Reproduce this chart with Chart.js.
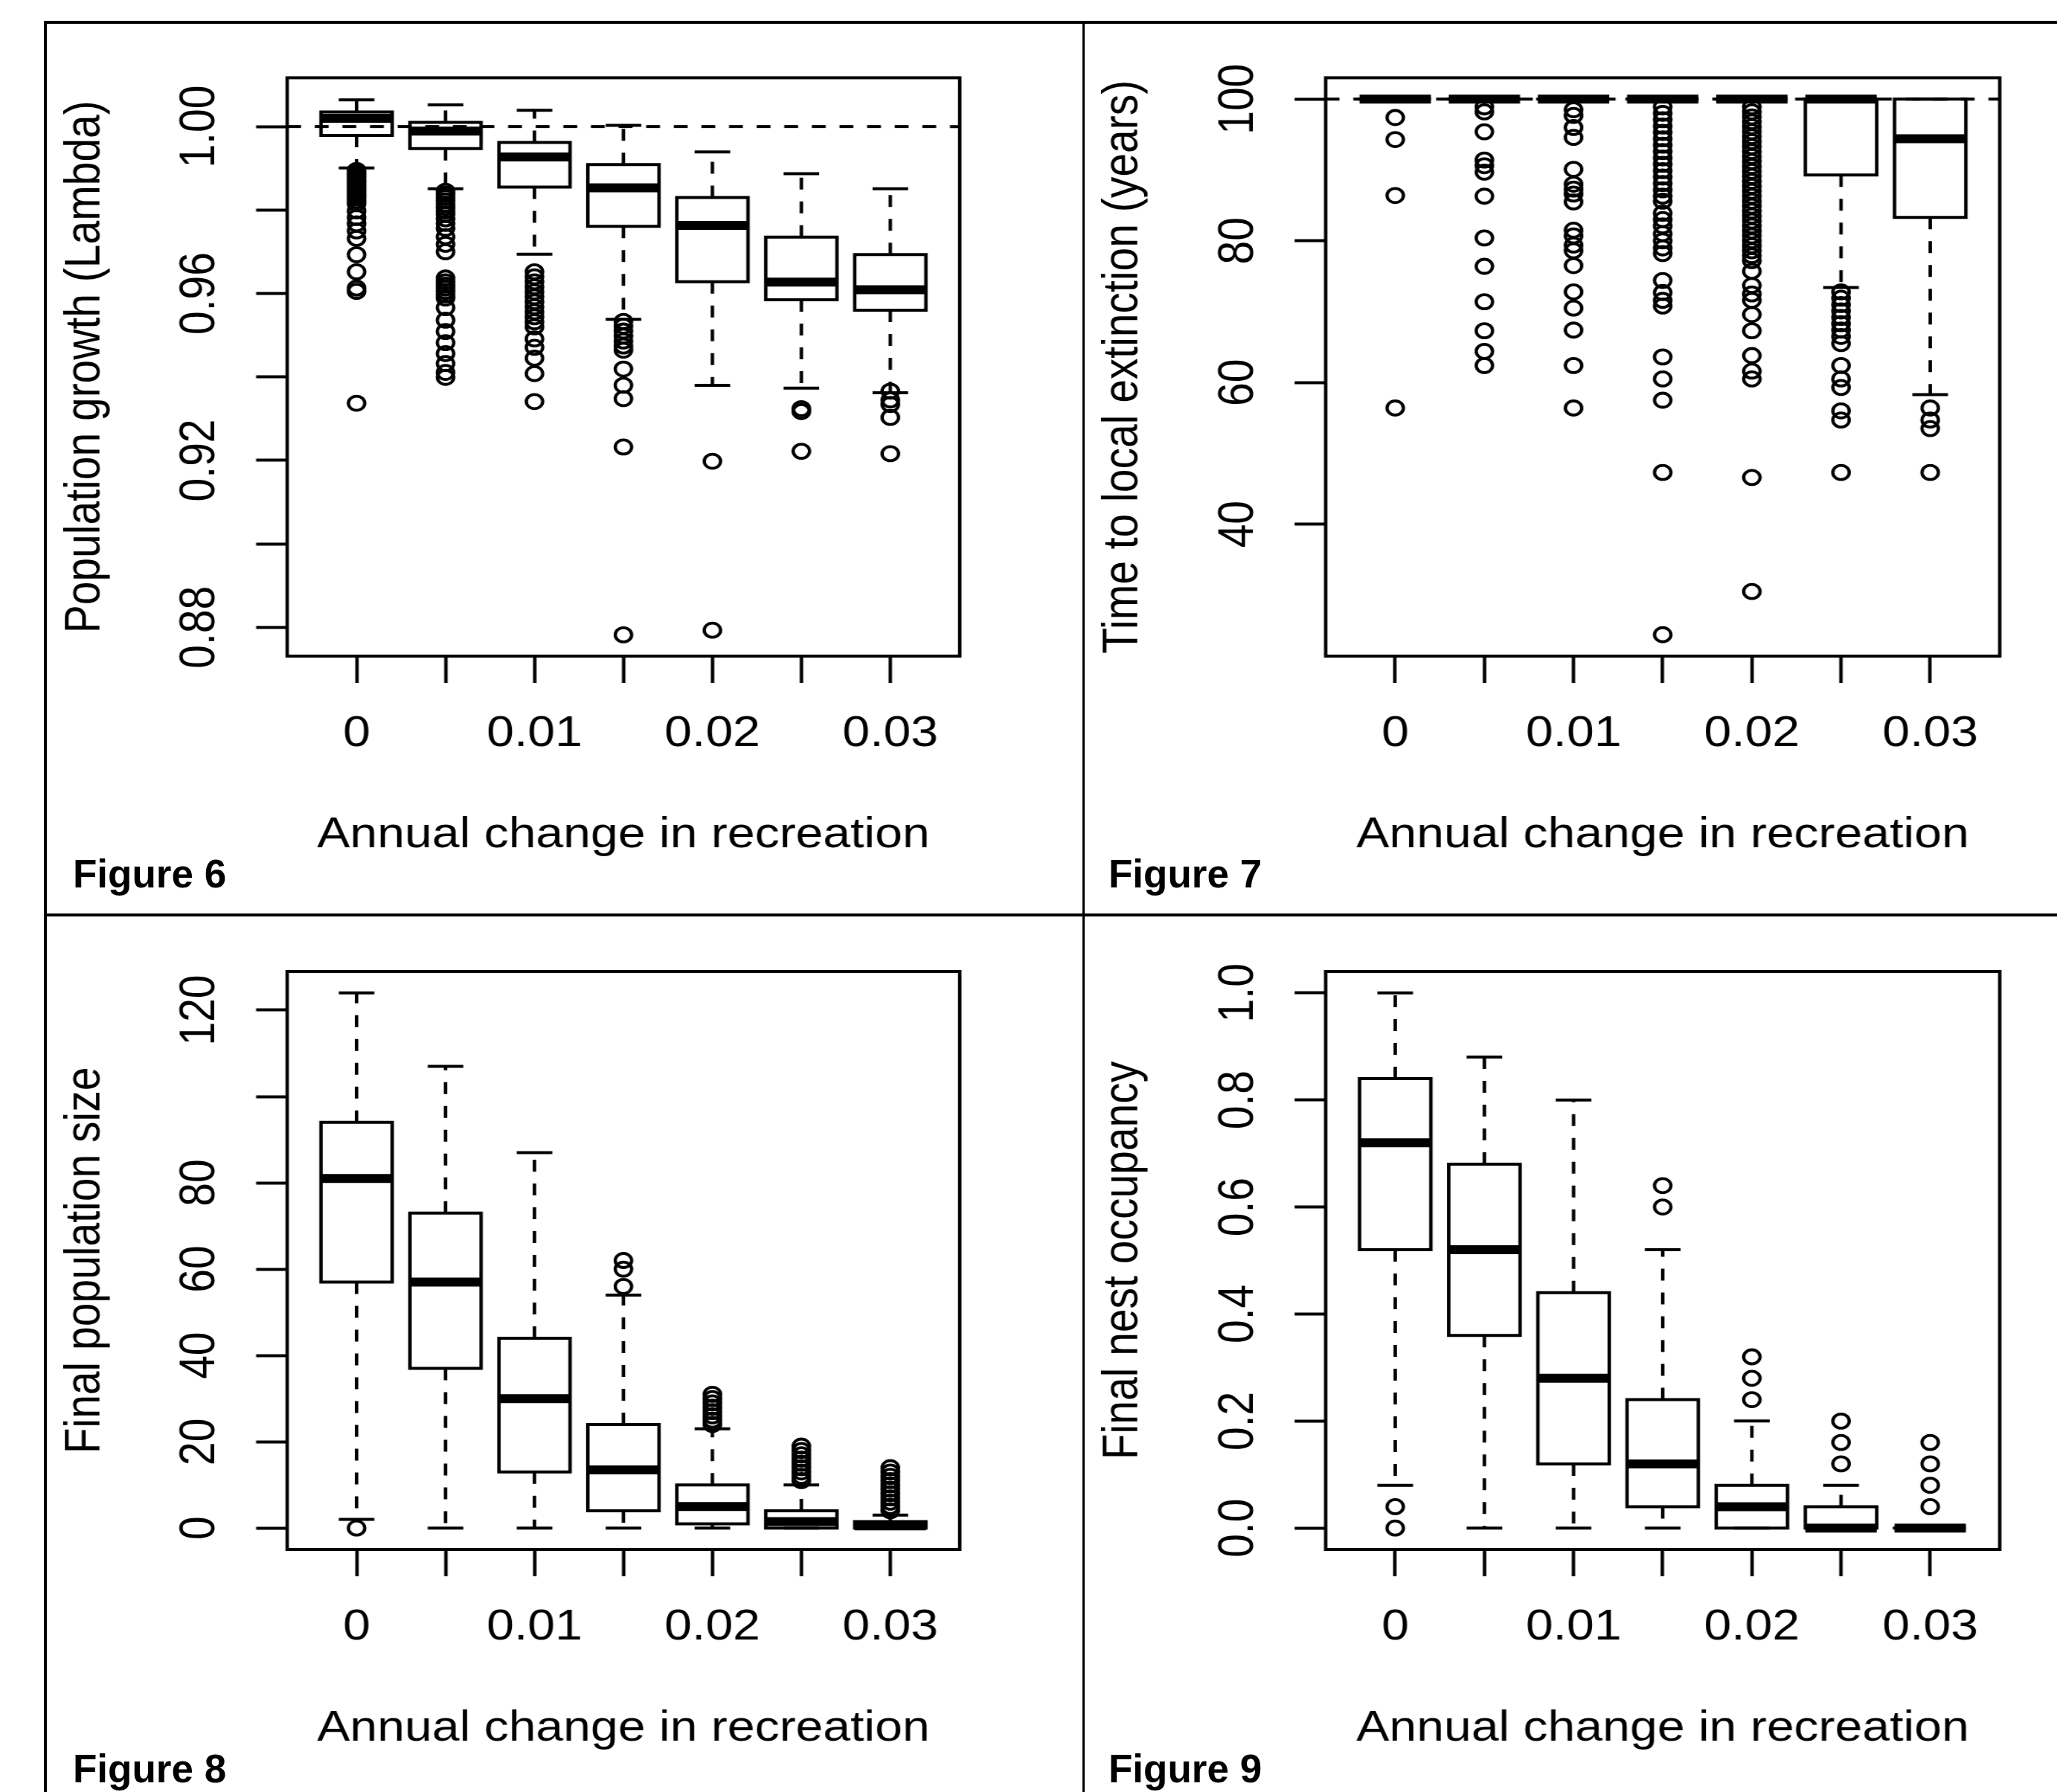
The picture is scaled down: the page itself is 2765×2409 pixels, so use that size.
<!DOCTYPE html>
<html>
<head>
<meta charset="utf-8">
<title>Figures 6-9: annual change in recreation</title>
<script src="https://cdn.jsdelivr.net/npm/chart.js@4.4.1/dist/chart.umd.min.js"></script>
<style>
  html, body { margin: 0; padding: 0; background: #fff; }
  #page { position: relative; width: 2765px; height: 2409px; overflow: hidden; background: #fff; }
  .rule { position: absolute; background: #000; }
  .panel { position: absolute; transform-origin: 0 0; transform: scaleX(1.16); }
  .fig { position: absolute; font: bold 53px 'Liberation Sans', Arial, sans-serif; line-height: 53px; color: #000; white-space: nowrap; }
</style>
</head>
<body>
<div id="page">
  <div class="rule" style="left:59px;top:28px;width:2706px;height:4px"></div>
  <div class="rule" style="left:59px;top:28px;width:4px;height:2381px"></div>
  <div class="rule" style="left:1455px;top:28px;width:3px;height:2381px"></div>
  <div class="rule" style="left:59px;top:1228px;width:2706px;height:4px"></div>

  <canvas id="fig6" class="panel" width="1190" height="1190" style="left:64px;top:33px"></canvas>
  <canvas id="fig7" class="panel" width="1190" height="1190" style="left:1459px;top:33px"></canvas>
  <canvas id="fig8" class="panel" width="1190" height="1190" style="left:64px;top:1234px"></canvas>
  <canvas id="fig9" class="panel" width="1190" height="1190" style="left:1459px;top:1234px"></canvas>

  <div class="fig" style="left:98px;top:1148px">Figure 6</div>
  <div class="fig" style="left:1490px;top:1148px">Figure 7</div>
  <div class="fig" style="left:98px;top:2351px">Figure 8</div>
  <div class="fig" style="left:1490px;top:2351px">Figure 9</div>
</div>

<script>
// ---- data ----
const groups = [1, 2, 3, 4, 5, 6, 7];
const xLabels = ['0', '', '0.01', '', '0.02', '', '0.03'];
const xTitle = 'Annual change in recreation';

// Figure 6 - population growth (lambda)
const f6Low  = [0.9901, 0.9851, 0.9694, 0.9538, 0.9380, 0.9373, 0.9362];
const f6Q1   = [0.9979, 0.9947, 0.9855, 0.9761, 0.9628, 0.9585, 0.9560];
const f6Med  = [1.0020, 0.9989, 0.9927, 0.9853, 0.9763, 0.9627, 0.9609];
const f6Q3   = [1.0035, 1.0010, 0.9962, 0.9909, 0.9830, 0.9735, 0.9693];
const f6High = [1.0064, 1.0052, 1.0039, 1.0003, 0.9939, 0.9887, 0.9851];
const f6Out = [
  [0.9895, 0.9889, 0.9883, 0.9877, 0.9871, 0.9865, 0.9859, 0.9853, 0.9847, 0.9841, 0.9835, 0.9829, 0.9822, 0.9815, 0.9798, 0.9782, 0.9767, 0.9750, 0.9732, 0.9693, 0.9652, 0.9613, 0.9605, 0.9337],
  [0.9845, 0.9838, 0.9830, 0.9822, 0.9814, 0.9806, 0.9798, 0.9790, 0.9779, 0.9768, 0.9756, 0.9736, 0.9718, 0.9700, 0.9637, 0.9628, 0.9620, 0.9613, 0.9605, 0.9597, 0.9589, 0.9566, 0.9536, 0.9509, 0.9482, 0.9456, 0.9432, 0.9411, 0.9399],
  [0.9652, 0.9640, 0.9628, 0.9616, 0.9604, 0.9592, 0.9580, 0.9568, 0.9556, 0.9544, 0.9532, 0.9520, 0.9491, 0.9471, 0.9445, 0.9408, 0.9341],
  [0.9533, 0.9522, 0.9510, 0.9498, 0.9486, 0.9474, 0.9464, 0.9419, 0.9380, 0.9348, 0.9232, 0.8782],
  [0.9198, 0.8793],
  [0.9324, 0.9317, 0.9222],
  [0.9366, 0.9345, 0.9334, 0.9303, 0.9216]
];
const f6YTicks  = [0.88, 0.90, 0.92, 0.94, 0.96, 0.98, 1.00];
const f6YLabels = ['0.88', '', '0.92', '', '0.96', '', '1.00'];

// Figure 7 - time to local extinction (years)
const f7Low  = [100, 100, 100, 100, 100, 73.4, 58.3];
const f7Q1   = [100, 100, 100, 100, 100, 89.3, 83.3];
const f7Med  = [100, 100, 100, 100, 100, 100, 94.4];
const f7Q3   = [100, 100, 100, 100, 100, 100, 100];
const f7High = [100, 100, 100, 100, 100, 100, 100];
const f7Out = [
  [97.4, 94.3, 86.4, 56.4],
  [98.9, 98.2, 95.4, 91.4, 90.6, 89.7, 86.3, 80.4, 76.4, 71.4, 67.3, 64.4, 62.4],
  [98.5, 97.7, 96.0, 94.6, 90.1, 88.0, 87.3, 86.6, 85.5, 81.5, 80.7, 79.4, 78.6, 76.5, 72.8, 70.5, 67.4, 62.4, 56.4],
  [98.9, 98.0, 97.1, 96.2, 95.3, 94.4, 93.5, 92.6, 91.7, 90.8, 89.9, 89.0, 88.1, 87.2, 86.3, 85.6, 83.9, 83.0, 82.1, 81.0, 80.0, 79.0, 78.2, 74.4, 72.7, 71.6, 70.8, 63.6, 60.5, 57.5, 47.3, 24.4],
  [98.9, 98.2, 97.5, 96.8, 96.1, 95.4, 94.7, 94.0, 93.3, 92.6, 91.9, 91.2, 90.5, 89.8, 89.1, 88.4, 87.7, 87.0, 86.3, 85.6, 84.9, 84.2, 83.5, 82.8, 82.1, 81.4, 80.7, 80.0, 79.3, 78.6, 77.9, 77.2, 75.7, 73.7, 72.5, 71.6, 69.6, 67.3, 63.8, 61.6, 60.5, 46.6, 30.5],
  [72.8, 71.9, 71.0, 70.1, 69.2, 68.3, 67.4, 66.5, 65.5, 62.4, 60.5, 59.3, 56.0, 54.7, 47.3],
  [56.4, 54.7, 53.5, 47.3]
];
const f7YTicks  = [40, 60, 80, 100];
const f7YLabels = ['40', '60', '80', '100'];

// Figure 8 - final population size
const f8Low  = [2, 0, 0, 0, 0, 0, 0];
const f8Q1   = [57, 37, 13, 4, 1, 0, 0];
const f8Med  = [81, 57, 30, 13.5, 5, 1.5, 0.5];
const f8Q3   = [94, 73, 44, 24, 10, 4, 1.5];
const f8High = [124, 107, 87, 54, 23, 10, 3];
const f8Out = [
  [0],
  [],
  [],
  [62, 60, 56],
  [24, 25, 26, 27, 28, 29, 30, 31],
  [11, 12, 13, 14, 15, 16, 17, 18, 19],
  [4, 5, 6, 7, 8, 9, 10, 11, 12, 13, 14]
];
const f8YTicks  = [0, 20, 40, 60, 80, 100, 120];
const f8YLabels = ['0', '20', '40', '60', '80', '', '120'];

// Figure 9 - final nest occupancy
const f9Low  = [0.08, 0, 0, 0, 0, 0, 0];
const f9Q1   = [0.52, 0.36, 0.12, 0.04, 0, 0, 0];
const f9Med  = [0.72, 0.52, 0.28, 0.12, 0.04, 0, 0];
const f9Q3   = [0.84, 0.68, 0.44, 0.24, 0.08, 0.04, 0];
const f9High = [1.00, 0.88, 0.80, 0.52, 0.20, 0.08, 0];
const f9Out = [
  [0.04, 0],
  [],
  [],
  [0.64, 0.60],
  [0.32, 0.28, 0.24],
  [0.20, 0.16, 0.12],
  [0.16, 0.12, 0.08, 0.04]
];
const f9YTicks  = [0, 0.2, 0.4, 0.6, 0.8, 1.0];
const f9YLabels = ['0.0', '0.2', '0.4', '0.6', '0.8', '1.0'];

// ---- drawing ----
const FONT = "'Liberation Sans', Arial, Helvetica, sans-serif";
const FS = 57;          // R cex 1 text
const TICK = 36;        // tick length
const LW = 4;           // normal line width
const HALF = 0.4;       // half box width (boxwex 0.8)
const STAPLE = 0.2;     // half staple width
const X_MIN = 0.22, X_MAX = 7.78;
const W = 1190, H = 1190;
const DASH = [16, 16];
const LABEL_GAP = 100;  // frame edge to centre of the y tick labels

function widest(labels) {
  const c = document.createElement('canvas').getContext('2d');
  c.font = FS + 'px ' + FONT;
  return Math.max(...labels.map(l => c.measureText(l).width));
}

function boxParts(low, q1, med, q3, high, out) {
  const box = [], mid = [], whisk = [], staple = [], pts = [];
  groups.forEach((g, i) => {
    box.push({x: g - HALF, y: q1[i]}, {x: g + HALF, y: q1[i]}, {x: g + HALF, y: q3[i]},
             {x: g - HALF, y: q3[i]}, {x: g - HALF, y: q1[i]}, {x: g, y: null});
    mid.push({x: g - HALF, y: med[i]}, {x: g + HALF, y: med[i]}, {x: g, y: null});
    whisk.push({x: g, y: q3[i]}, {x: g, y: high[i]}, {x: g, y: null},
               {x: g, y: q1[i]}, {x: g, y: low[i]}, {x: g, y: null});
    staple.push({x: g - STAPLE, y: high[i]}, {x: g + STAPLE, y: high[i]}, {x: g, y: null},
                {x: g - STAPLE, y: low[i]}, {x: g + STAPLE, y: low[i]}, {x: g, y: null});
    out[i].forEach(v => pts.push({x: g, y: v}));
  });
  return {box, mid, whisk, staple, pts};
}

// box round the plot region, like R's box()
const frame = {
  id: 'frame',
  afterDatasetsDraw(chart) {
    const {ctx, chartArea: a} = chart;
    ctx.save();
    ctx.strokeStyle = '#000';
    ctx.lineWidth = 4;
    ctx.strokeRect(a.left, a.top, a.right - a.left, a.bottom - a.top);
    ctx.restore();
  }
};

function lineSet(data, width, order, extra) {
  return Object.assign({
    type: 'line', data, borderColor: '#000', borderWidth: width, pointRadius: 0,
    fill: false, tension: 0, spanGaps: false, borderJoinStyle: 'miter', order
  }, extra || {});
}

function makePanel(id, p) {
  const parts = boxParts(p.low, p.q1, p.med, p.q3, p.high, p.out);
  const datasets = [
    {type: 'scatter', data: parts.pts, pointStyle: 'circle', pointRadius: 9.5, pointBorderWidth: 3.8,
     borderColor: '#000', backgroundColor: 'rgba(0,0,0,0)', order: 1},
    lineSet(parts.mid, 12, 2),
    lineSet(parts.box, LW, 3, {borderCapStyle: 'square'}),
    lineSet(parts.staple, LW, 4),
    lineSet(parts.whisk, LW, 5, {borderDash: DASH})
  ];
  if (p.ref !== undefined) {
    datasets.unshift(lineSet([{x: X_MIN, y: p.ref}, {x: X_MAX, y: p.ref}], LW, 0, {borderDash: DASH}));
  }
  const a = p.area;
  const font = {family: FONT, size: FS};

  new Chart(document.getElementById(id), {
    type: 'scatter',
    data: {datasets},
    options: {
      responsive: false,
      animation: false,
      events: [],
      layout: {padding: {left: 0, top: a.top, right: W - a.right, bottom: 0}},
      plugins: {legend: {display: false}, tooltip: {enabled: false}},
      scales: {
        x: {
          type: 'linear', min: X_MIN, max: X_MAX,
          afterBuildTicks: s => { s.ticks = groups.map(v => ({value: v})); },
          afterFit: s => { s.height = H - a.bottom; s.paddingLeft = 0; s.paddingRight = 0; },
          border: {display: false},
          grid: {drawOnChartArea: false, drawTicks: true, tickLength: TICK, tickWidth: 4, tickColor: '#000'},
          ticks: {autoSkip: false, minRotation: 0, maxRotation: 0, padding: 35, color: '#000', font,
                  callback: v => xLabels[groups.indexOf(v)]},
          title: {display: true, text: xTitle, color: '#000', font, padding: {top: 0, bottom: 66}}
        },
        y: {
          type: 'linear', min: p.yMin, max: p.yMax,
          afterBuildTicks: s => { s.ticks = p.yTicks.map(v => ({value: v})); },
          afterFit: s => { s.width = a.left; s.paddingTop = 0; s.paddingBottom = 0; },
          border: {display: false},
          grid: {drawOnChartArea: false, drawTicks: true, tickLength: TICK, tickWidth: 4, tickColor: '#000'},
          ticks: {autoSkip: false, minRotation: 90, maxRotation: 90, crossAlign: 'center',
                  padding: LABEL_GAP - TICK - widest(p.yLabels) / 2,
                  color: '#000', font,
                  callback: v => p.yLabels[p.yTicks.indexOf(v)]},
          title: {display: true, text: p.yTitle, color: '#000', font, padding: {top: 10.3, bottom: 0}}
        }
      }
    },
    plugins: [frame]
  });
}

const leftArea  = top => ({left: 277.6, right: 1056.9, top, bottom: 849});
const rightArea = top => ({left: 278.4, right: 1059.5, top, bottom: 849});

makePanel('fig6', {low: f6Low, q1: f6Q1, med: f6Med, q3: f6Q3, high: f6High, out: f6Out,
  yMin: 0.8731, yMax: 1.0117, yTicks: f6YTicks, yLabels: f6YLabels,
  yTitle: 'Population growth (Lambda)', ref: 1.00, area: leftArea(71.5)});
makePanel('fig7', {low: f7Low, q1: f7Q1, med: f7Med, q3: f7Q3, high: f7High, out: f7Out,
  yMin: 21.38, yMax: 103.02, yTicks: f7YTicks, yLabels: f7YLabels,
  yTitle: 'Time to local extinction (years)', ref: 100, area: rightArea(71.5)});
makePanel('fig8', {low: f8Low, q1: f8Q1, med: f8Med, q3: f8Q3, high: f8High, out: f8Out,
  yMin: -4.96, yMax: 128.96, yTicks: f8YTicks, yLabels: f8YLabels,
  yTitle: 'Final population size', area: leftArea(72)});
makePanel('fig9', {low: f9Low, q1: f9Q1, med: f9Med, q3: f9Q3, high: f9High, out: f9Out,
  yMin: -0.04, yMax: 1.04, yTicks: f9YTicks, yLabels: f9YLabels,
  yTitle: 'Final nest occupancy', area: rightArea(72)});
</script>
</body>
</html>
